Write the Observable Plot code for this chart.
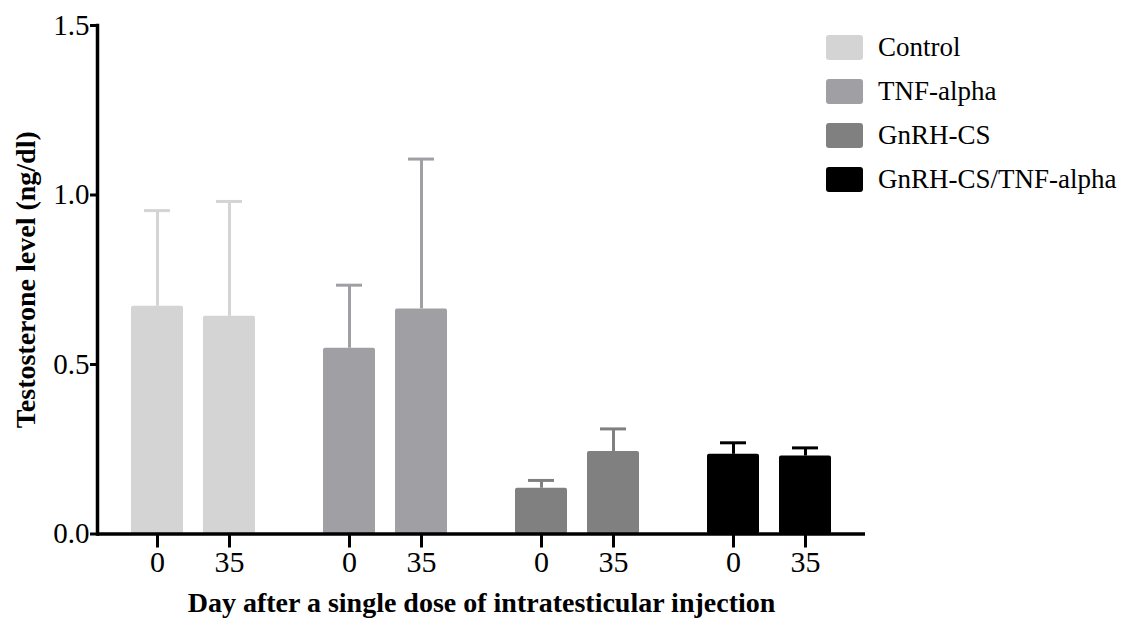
<!DOCTYPE html>
<html>
<head>
<meta charset="utf-8">
<script src="https://cdn.jsdelivr.net/npm/d3@7"></script>
<script src="https://cdn.jsdelivr.net/npm/@observablehq/plot@0.6"></script>
<style>
  body { margin: 0; background: #fff; }
  #chart { position: relative; width: 1123px; height: 621px; font-family: "Liberation Serif", "Times New Roman", serif; }
  #chart svg text { font-family: "Liberation Serif", "Times New Roman", serif; }
  #legend { position: absolute; left: 826px; top: 25px; }
  .item { display: flex; align-items: center; height: 44px; font-size: 27px; color: #000; }
  .swatch { width: 37px; height: 25px; border-radius: 3px; margin-right: 15px; }
</style>
</head>
<body>
<div id="chart"><div id="legend"></div></div>
<script>
// Treatment groups, sampling days and measured testosterone (mean ± SEM, ng/dl)
const groups = ["Control", "TNF-alpha", "GnRH-CS", "GnRH-CS/TNF-alpha"];
const days = ["0", "35"];
const meanLevel = [
  [0.672, 0.642],
  [0.548, 0.664],
  [0.135, 0.243],
  [0.235, 0.230]
];
const semLevel = [
  [0.282, 0.339],
  [0.186, 0.442],
  [0.023, 0.067],
  [0.034, 0.024]
];
const groupColors = ["#d4d4d4", "#a0a0a4", "#808080", "#000000"];
const yTicks = [0, 0.5, 1.0, 1.5];
const yTitle = "Testosterone level (ng/dl)";
const xTitle = "Day after a single dose of intratesticular injection";

const rows = groups.flatMap((g, i) => days.map((d, j) => ({
  group: g,
  day: d,
  mean: meanLevel[i][j],
  upper: meanLevel[i][j] + semLevel[i][j]
})));

const plot = Plot.plot({
  width: 1123,
  height: 621,
  marginLeft: 96,
  marginRight: 258,
  marginTop: 25,
  marginBottom: 87.5,
  style: { fontFamily: "'Liberation Serif', 'Times New Roman', serif", background: "white", color: "black", overflow: "visible" },
  fx: { domain: groups, paddingInner: 0, paddingOuter: 0 },
  x: { domain: days, paddingInner: 0.276, paddingOuter: 0.47 },
  y: { domain: [0, 1.5] },
  color: { domain: groups, range: groupColors },
  marks: [
    // upper error bars: stem and cap
    Plot.ruleX(rows, { fx: "group", x: "day", y1: "mean", y2: "upper", stroke: "group", strokeWidth: 3 }),
    Plot.tickY(rows, { fx: "group", x: "day", y: "upper", stroke: "group", strokeWidth: 3, insetLeft: 13, insetRight: 13 }),
    // mean bars
    Plot.barY(rows, { fx: "group", x: "day", y: "mean", fill: "group", rx: 2 }),
    // axis lines
    Plot.ruleY([0], { strokeWidth: 3.5 }),
    Plot.frame({ anchor: "left", strokeWidth: 3.5, facetAnchor: "left" }),
    Plot.axisY({ ticks: yTicks, tickFormat: d3.format(".1f"), tickSize: 7, tickPadding: 1, strokeWidth: 3, fontSize: 29, label: null }),
    Plot.axisX({ tickSize: 14, tickPadding: 3, strokeWidth: 3, fontSize: 30, label: null }),
    Plot.axisFx({ anchor: "bottom", tickSize: 0, tickFormat: () => "", label: xTitle, labelAnchor: "center", labelOffset: 78, fontSize: 28, fontWeight: "bold" }),
    Plot.text([yTitle], { text: d => d, frameAnchor: "left", textAnchor: "middle", lineAnchor: "middle", rotate: -90, dx: -71, fontSize: 28, fontWeight: "bold", facetAnchor: "left" })
  ]
});

const svg = d3.select(plot);
svg.selectAll('g[aria-label="y-axis tick label"]').style("font-size", "29px");
svg.selectAll('g[aria-label="x-axis tick label"]').style("font-size", "30px");
svg.selectAll("text").filter(function () { return this.textContent === xTitle; })
  .style("font-weight", "bold").style("font-size", "28px");

document.getElementById("chart").prepend(plot);

// legend
const legend = d3.select("#legend");
groups.forEach((g, i) => {
  const item = legend.append("div").attr("class", "item");
  item.append("div").attr("class", "swatch").style("background", groupColors[i]);
  item.append("span").text(g);
});
</script>
</body>
</html>
